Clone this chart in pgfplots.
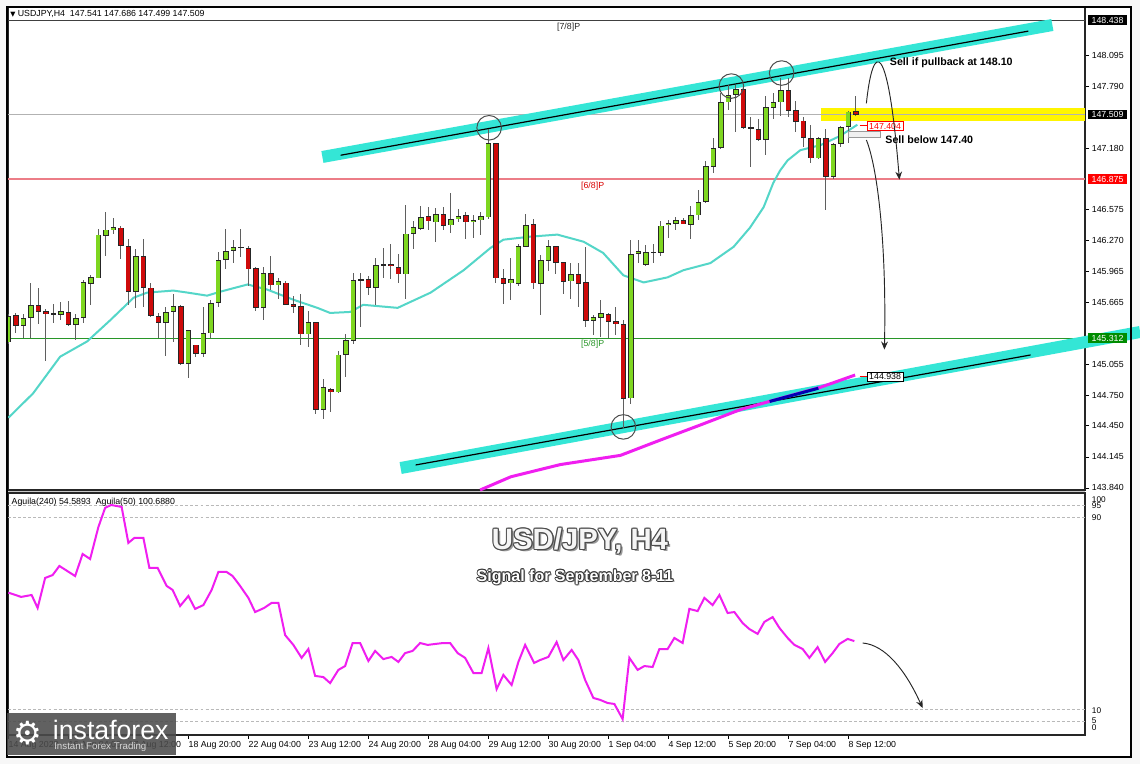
\documentclass[border=0pt]{standalone}
\usepackage{fontspec}
\setmainfont{Liberation Sans}
\newfontfamily\dejavu{DejaVu Sans}
\usepackage{pgfplots}
\pgfplotsset{compat=1.18}
\usepackage{pgfplotstable}
\usetikzlibrary{arrows.meta}

\definecolor{cup}{RGB}{126,214,32}
\definecolor{cdn}{RGB}{206,10,10}
\definecolor{wick}{RGB}{95,95,95}
\definecolor{band}{RGB}{52,230,214}
\definecolor{ma}{RGB}{84,214,200}
\definecolor{mag}{RGB}{240,30,240}
\definecolor{lvlred}{RGB}{236,125,135}
\definecolor{lvlgreen}{RGB}{40,150,40}
\definecolor{yel}{RGB}{255,245,0}

\newcommand{\fs}{\fontsize{6.6}{7.6}\selectfont}
\newcommand{\fb}{\fontsize{8}{9.5}\selectfont\bfseries}
\newcommand{\titlefont}{\fontsize{22}{26}\selectfont\bfseries}
\newcommand{\subfont}{\fontsize{12}{14}\selectfont\bfseries}

\pgfplotsset{candle/.style={draw=none, no markers, forget plot}}

\pgfplotstableread{
i O H L C
0 145.27 145.55 145.25 145.53
2 145.43 145.55 145.31 145.51
3 145.51 145.86 145.31 145.64
6 145.55 145.65 145.46 145.56
7 145.54 145.67 145.49 145.58
9 145.44 145.55 145.29 145.51
10 145.51 145.88 145.46 145.86
11 145.85 145.93 145.64 145.91
12 145.90 146.39 145.90 146.33
13 146.32 146.55 146.12 146.38
14 146.38 146.49 146.34 146.40
17 145.77 146.19 145.61 146.12
21 145.46 145.62 145.14 145.57
22 145.57 145.75 145.28 145.63
24 145.06 145.39 144.92 145.39
26 145.16 145.62 145.13 145.36
27 145.36 145.69 145.31 145.66
28 145.66 146.16 145.62 146.08
29 146.08 146.39 145.99 146.17
30 146.17 146.28 146.05 146.21
31 146.20 146.39 146.11 146.21
34 145.61 146.01 145.49 145.95
36 145.83 145.90 145.70 145.87
40 145.35 145.58 145.23 145.47
42 144.61 144.91 144.52 144.83
44 144.78 145.19 144.77 145.15
45 145.15 145.35 144.93 145.29
46 145.29 145.95 145.26 145.88
47 145.88 145.95 145.42 145.89
49 145.81 146.10 145.64 146.03
50 146.03 146.20 145.90 146.04
53 145.94 146.62 145.70 146.34
54 146.34 146.46 146.19 146.40
55 146.39 146.61 146.38 146.50
57 146.45 146.59 146.26 146.53
59 146.42 146.74 146.35 146.48
60 146.48 146.58 146.45 146.51
62 146.45 146.52 146.30 146.47
63 146.47 146.55 146.33 146.51
64 146.50 147.37 146.48 147.23
67 145.85 146.10 145.69 145.89
68 145.85 146.24 145.83 146.22
69 146.21 146.53 146.21 146.42
71 145.85 146.13 145.54 146.08
72 146.07 146.28 145.97 146.22
75 145.87 146.05 145.70 145.94
78 145.48 145.54 145.34 145.52
79 145.51 145.69 145.32 145.56
83 144.72 146.28 144.67 146.14
84 146.14 146.28 146.05 146.17
85 146.03 146.23 146.02 146.16
86 146.15 146.24 146.05 146.16
87 146.15 146.46 146.12 146.42
88 146.42 146.47 146.30 146.44
89 146.44 146.50 146.38 146.47
91 146.43 146.61 146.29 146.52
92 146.52 146.77 146.47 146.65
93 146.65 147.05 146.64 147.00
94 147.00 147.28 146.94 147.18
95 147.18 147.72 147.17 147.63
96 147.63 147.80 147.56 147.70
97 147.70 147.80 147.34 147.76
99 147.38 147.49 147.00 147.38
101 147.26 147.69 147.11 147.58
102 147.58 147.72 147.47 147.63
103 147.63 147.87 147.50 147.75
108 147.08 147.29 147.07 147.28
110 146.90 147.23 146.88 147.22
111 147.22 147.40 147.19 147.39
112 147.39 147.55 147.23 147.54
}\upc

\pgfplotstableread{
i O H L C
1 145.54 145.56 145.36 145.43
4 145.64 145.81 145.45 145.57
5 145.58 145.60 145.09 145.55
8 145.57 145.68 145.43 145.44
15 146.40 146.41 146.09 146.22
16 146.22 146.29 145.64 145.77
18 146.12 146.29 145.62 145.81
19 145.81 145.85 145.52 145.53
20 145.53 145.56 145.31 145.46
23 145.63 145.64 145.05 145.06
25 145.25 145.25 145.13 145.16
32 146.20 146.22 145.83 145.99
33 146.00 146.01 145.58 145.61
35 145.95 146.12 145.79 145.83
37 145.86 145.87 145.64 145.64
38 145.65 145.73 145.56 145.62
39 145.63 145.75 145.25 145.35
41 145.47 145.47 144.57 144.61
43 144.81 144.82 144.59 144.78
48 145.89 145.92 145.74 145.81
51 146.04 146.24 145.89 146.02
52 146.01 146.14 145.85 145.94
56 146.51 146.60 146.38 146.46
58 146.53 146.60 146.38 146.42
61 146.52 146.55 146.29 146.45
65 147.23 147.23 145.86 145.90
66 145.90 145.99 145.65 145.85
70 146.43 146.48 145.80 145.85
73 146.22 146.22 145.94 146.05
74 146.06 146.06 145.75 145.87
76 145.94 146.05 145.62 145.85
77 145.86 146.21 145.42 145.48
80 145.55 145.56 145.31 145.47
81 145.48 145.62 145.34 145.45
82 145.45 145.49 144.43 144.72
90 146.47 146.49 146.43 146.43
98 147.76 147.77 147.37 147.38
100 147.37 147.47 147.25 147.26
104 147.75 147.87 147.49 147.55
105 147.55 147.64 147.34 147.44
106 147.45 147.49 147.19 147.28
107 147.28 147.41 147.03 147.08
109 147.28 147.37 146.57 146.90
113 147.54 147.69 147.50 147.51
}\dnc

\begin{document}
\begin{tikzpicture}[x=1pt,y=1pt]
\useasboundingbox (0,0) rectangle (855,573);
\fill[gray!6] (0,0) rectangle (855,573);
\fill[white] (5.25,5.25) rectangle (848.25,567.75);
\fill[gray!45] (6,203.25) rectangle (813.75,205.5);

% ---------------- main price panel ----------------
\begin{axis}[
  at={(6pt,205.5pt)}, anchor=south west, scale only axis,
  width=807.75pt, height=362.25pt,
  xmin=-0.05, xmax=143.55, ymin=143.82, ymax=148.567,
  clip=false,
  axis line style={line width=0.8pt, black!85},
  xtick=\empty,
  ytick={143.84,144.145,144.45,144.75,145.055,145.665,145.965,146.27,146.575,147.18,147.79,148.095},
  yticklabels={143.840,144.145,144.450,144.750,145.055,145.665,145.965,146.270,146.575,147.180,147.790,148.095},
  ytick pos=right, yticklabel pos=right,
  tick align=outside, major tick length=3pt,
  every tick/.style={black, line width=0.6pt},
  yticklabel style={font=\fs, anchor=west, inner sep=0pt, xshift=2pt},
  /pgf/number format/assume math mode=true,
]
% yellow zone
\addplot[yel, line width=9.75pt, forget plot] coordinates {(108.3,147.515) (143.55,147.515)};
% horizontal levels
\addplot[draw=black!75, line width=0.75pt, forget plot] coordinates {(-0.05,148.438) (143.55,148.438)};
\addplot[draw=gray!60, line width=0.75pt, forget plot] coordinates {(-0.05,147.509) (143.55,147.509)};
\addplot[draw=lvlred, line width=1.3pt, forget plot] coordinates {(-0.05,146.875) (143.55,146.875)};
\addplot[draw=lvlgreen, line width=0.75pt, forget plot] coordinates {(-0.05,145.312) (143.55,145.312)};
% channel bands
\addplot[band, line width=9pt, forget plot] coordinates {(41.87,147.093) (139.2,148.39)};
\addplot[band, line width=9pt, forget plot] coordinates {(52.3,144.036) (150.9,145.373)};
\addplot[black, line width=0.9pt, forget plot] coordinates {(44.3,147.11) (136,148.33)};
\addplot[black, line width=0.9pt, forget plot] coordinates {(54.3,144.066) (136.3,145.147)};
% moving average (cyan)
\addplot[ma, line width=1.5pt, forget plot] coordinates {
(0,144.53) (3.3,144.77) (6.9,145.13) (10.5,145.28) (13.6,145.49) (16.7,145.71) (18.5,145.76)
(22,145.78) (23.9,145.76) (26.5,145.73) (28.3,145.77) (31.9,145.84) (34.5,145.79) (38,145.69)
(41.2,145.61) (42.9,145.56) (45.6,145.57) (47.3,145.64) (51.9,145.61) (56.3,145.76) (60.7,145.98)
(64.3,146.20) (66,146.28) (69.6,146.31) (73.2,146.33) (76.7,146.26) (79.3,146.15) (82,145.93)
(84.7,145.86) (87.9,145.91) (90,145.98) (93.6,146.05) (96.7,146.21) (98.9,146.40) (100.7,146.60)
(102,146.84) (102.9,146.96) (103.9,147.06) (105.6,147.16) (108.3,147.21) (110.9,147.30) (113.2,147.41)};
% slow moving average (magenta)
\addplot[mag, line width=2.25pt, forget plot] coordinates {
(62.9,143.82) (67,143.95) (73.6,144.07) (81.6,144.16) (86.9,144.31) (92.3,144.46) (97.6,144.61)
(102.9,144.72) (108.3,144.83) (112.9,144.95)};
\addplot[blue!70!black, line width=2.25pt, forget plot] coordinates {(101.5,144.69) (108,144.82)};
% wicks
\addplot[candle, error bars/.cd, y dir=both, y explicit, error mark=none,
  error bar style={draw=wick, line width=0.8pt}]
  table[x=i, y expr={(\thisrow{H}+\thisrow{L})/2}, y error expr={(\thisrow{H}-\thisrow{L})/2}] {\upc};
\addplot[candle, error bars/.cd, y dir=both, y explicit, error mark=none,
  error bar style={draw=wick, line width=0.8pt}]
  table[x=i, y expr={(\thisrow{H}+\thisrow{L})/2}, y error expr={(\thisrow{H}-\thisrow{L})/2}] {\dnc};
% bodies: outline
\addplot[candle, error bars/.cd, y dir=both, y explicit, error mark=none,
  error bar style={draw=black!85, line width=4.1pt}]
  table[x=i, y expr={(\thisrow{O}+\thisrow{C})/2}, y error expr={max(abs(\thisrow{C}-\thisrow{O})/2,0.006)}] {\upc};
\addplot[candle, error bars/.cd, y dir=both, y explicit, error mark=none,
  error bar style={draw=black!85, line width=4.1pt}]
  table[x=i, y expr={(\thisrow{O}+\thisrow{C})/2}, y error expr={max(abs(\thisrow{C}-\thisrow{O})/2,0.006)}] {\dnc};
% bodies: fill
\addplot[candle, error bars/.cd, y dir=both, y explicit, error mark=none,
  error bar style={draw=cup, line width=2.9pt}]
  table[x=i, y expr={(\thisrow{O}+\thisrow{C})/2}, y error expr={max(abs(\thisrow{C}-\thisrow{O})/2-0.0075,0)}] {\upc};
\addplot[candle, error bars/.cd, y dir=both, y explicit, error mark=none,
  error bar style={draw=cdn, line width=2.9pt}]
  table[x=i, y expr={(\thisrow{O}+\thisrow{C})/2}, y error expr={max(abs(\thisrow{C}-\thisrow{O})/2-0.0075,0)}] {\dnc};

% circles
\draw[gray!60!black, line width=0.75pt] (axis cs:64.1,147.38) circle[radius=9.2pt];
\draw[gray!60!black, line width=0.75pt] (axis cs:96.4,147.79) circle[radius=9.2pt];
\draw[gray!60!black, line width=0.75pt] (axis cs:103.1,147.918) circle[radius=9.2pt];
\draw[gray!60!black, line width=0.75pt] (axis cs:82,144.44) circle[radius=9.2pt];

% level labels
\node[font=\fs, text=black!85] at (axis cs:74.7,148.37) {[7/8]P};
\node[font=\fs, text=red!85!black] at (axis cs:77.9,146.808) {[6/8]P};
\node[font=\fs, text=lvlgreen] at (axis cs:77.9,145.255) {[5/8]P};

% marker boxes
\addplot[red, line width=0.75pt, forget plot] coordinates {(113.5,147.40) (114.6,147.40)};
\node[draw=red, fill=white, text=red, font=\fs, inner xsep=1.5pt, inner ysep=1pt, line width=0.6pt] at (axis cs:116.9,147.397) {147.404};
\addplot[red, line width=0.75pt, forget plot] coordinates {(113.5,144.935) (114.6,144.935)};
\node[draw=black, fill=white, text=black, font=\fs, inner xsep=1.5pt, inner ysep=1pt, line width=0.6pt] at (axis cs:116.9,144.931) {144.938};
\draw[gray!80, fill=gray!12, line width=0.6pt] (axis cs:112,147.348) rectangle (axis cs:116.3,147.289);

% annotations
\node[font=\fb, anchor=west, inner sep=0pt] at (axis cs:117.5,148.016) {Sell if pullback at 148.10};
\node[font=\fb, anchor=west, inner sep=0pt] at (axis cs:116.9,147.26) {Sell below 147.40};
\draw[black!85, line width=0.7pt, -{Stealth[length=6pt,width=5pt]}]
  (axis cs:114.4,147.62) .. controls (axis cs:115.3,148.25) and (axis cs:117.3,148.25) .. (axis cs:118.8,146.87);
\draw[black!85, line width=0.7pt, -{Stealth[length=6pt,width=5pt]}]
  (axis cs:114.4,147.26) .. controls (axis cs:116,146.965) and (axis cs:117.1,146.18) .. (axis cs:116.8,145.20);

% right price boxes
\node[fill=black, text=white, font=\fs, inner xsep=2.6pt, inner ysep=1.3pt, anchor=west, xshift=2.2pt] at (axis cs:143.55,148.438) {148.438};
\node[fill=black, text=white, font=\fs, inner xsep=2.6pt, inner ysep=1.3pt, anchor=west, xshift=2.2pt] at (axis cs:143.55,147.509) {147.509};
\node[fill=red, text=white, font=\fs, inner xsep=2.6pt, inner ysep=1.3pt, anchor=west, xshift=2.2pt] at (axis cs:143.55,146.875) {146.875};
\node[fill=green!55!black, text=white, font=\fs, inner xsep=2.6pt, inner ysep=1.3pt, anchor=west, xshift=2.2pt] at (axis cs:143.55,145.312) {145.312};
\end{axis}

% ---------------- indicator panel ----------------
\begin{axis}[
  at={(6pt,21.75pt)}, anchor=south west, scale only axis,
  width=807.75pt, height=181.5pt,
  xmin=-0.05, xmax=143.55, ymin=-0.83, ymax=100,
  clip=false,
  axis line style={line width=0.8pt, black!85},
  xtick={0,8,...,112},
  xticklabels={14 Aug 2023,16 Aug 04:00,17 Aug 12:00,18 Aug 20:00,22 Aug 04:00,23 Aug 12:00,24 Aug 20:00,28 Aug 04:00,29 Aug 12:00,30 Aug 20:00,1 Sep 04:00,4 Sep 12:00,5 Sep 20:00,7 Sep 04:00,8 Sep 12:00},
  xtick pos=bottom,
  ytick={2.2,5.1,9.5,89.7,94.7,97.2},
  yticklabels={0,5,10,90,95,100},
  ytick pos=right, yticklabel pos=right,
  ytick style={draw=none},
  tick align=outside, major tick length=3pt,
  xtick style={black, line width=0.6pt},
  xticklabel style={font=\fs, anchor=north west, inner sep=0pt, yshift=-1.5pt},
  yticklabel style={font=\fontsize{6.2}{7}\selectfont, anchor=west, inner sep=0pt, xshift=2pt},
]
\addplot[gray!55, dash pattern=on 2.2pt off 1.6pt, line width=0.6pt, forget plot] coordinates {(-0.05,95) (143.55,95)};
\addplot[gray!55, dash pattern=on 2.2pt off 1.6pt, line width=0.6pt, forget plot] coordinates {(-0.05,90) (143.55,90)};
\addplot[gray!55, dash pattern=on 2.2pt off 1.6pt, line width=0.6pt, forget plot] coordinates {(-0.05,10) (143.55,10)};
\addplot[gray!55, dash pattern=on 2.2pt off 1.6pt, line width=0.6pt, forget plot] coordinates {(-0.05,5) (143.55,5)};
\addplot[mag, line width=1.5pt, forget plot] coordinates {
(0,58.5) (1.7,56.7) (3.1,57.5) (3.9,52.1) (4.9,64.6) (5.9,65.8) (6.8,69.6) (8.9,65.4) (9.9,74.6)
(10.9,72.5) (12,85.8) (12.9,93.8) (13.7,95) (15.1,94.2) (16,79.2) (16.8,81.3) (18,81.3) (18.8,68.8)
(19.9,68.8) (21.1,61.3) (21.9,59.6) (22.9,52.9) (24,57.1) (24.9,51.7) (26,53.3) (27.1,59.6) (28,67.1)
(29.1,67.1) (29.9,65.4) (30.8,61.7) (32,56.3) (32.9,50.4) (34.1,52.1) (35.1,54.2) (36,54.2) (36.9,40.8)
(38,36.7) (39.1,31.3) (40,35) (40.9,23.8) (42,23.3) (42.9,20.8) (44,26.3) (44.9,27.9) (45.9,37.5)
(46.9,37.5) (48,30) (48.9,34.2) (50,30.8) (51.1,31.7) (52,29.6) (52.9,33.3) (53.9,34.2) (54.9,37.5)
(55.9,36.7) (56.9,37.1) (58,37.5) (58.9,37.5) (59.9,33.3) (60.9,31.3) (62,25) (63.1,25) (64,35.4)
(65.1,18.3) (66,24.2) (67.1,20) (68,29.6) (68.9,36.7) (70.1,29.2) (70.9,30.4) (72,31.7) (73.1,37.9)
(74,30.4) (75.1,34.6) (76,30.4) (76.9,22.1) (78,14.6) (78.9,13.8) (79.9,12.5) (80.8,12.1) (81.9,5.8)
(82.8,31.3) (83.9,26.3) (84.8,27.9) (85.9,27.5) (86.8,35) (87.9,35) (88.8,39.6) (89.9,37.5) (90.8,51.7)
(91.9,50.8) (92.8,56.3) (93.9,53.3) (94.8,57.5) (95.9,50) (96.8,50.4) (97.9,45.8) (98.8,43.3) (99.9,41.3)
(100.8,46.3) (101.9,48.3) (102.8,43.8) (103.9,39.6) (104.8,36.7) (105.9,35) (106.8,31.3) (107.9,35.8)
(108.9,29.6) (109.9,33.3) (110.8,37.1) (111.9,39.2) (112.8,38.3)};
\draw[black!85, line width=0.7pt, -{Stealth[length=6pt,width=5pt]}]
  (axis cs:113.9,37.5) .. controls (axis cs:116.9,36.7) and (axis cs:119.6,26.3) .. (axis cs:121.9,10.4);
\node[font=\fs, anchor=west, inner sep=0pt] at (axis cs:0.4,96.2) {Aguila(240) 54.5893\ \ Aguila(50) 100.6880};
\end{axis}

% header
\node[font=\fs, anchor=west, inner sep=0pt] at (7.5,562.5) {{\dejavu\fontsize{5}{6}\selectfont ▼} USDJPY,H4\ \ 147.541 147.686 147.499 147.509};

% title with outline
\node[text=black!40, font=\titlefont] at (436.8,165.5) {USD/JPY, H4};
\foreach \dx/\dy in {0.9/0,-0.9/0,0/0.9,0/-0.9,0.65/0.65,-0.65/0.65,0.65/-0.65,-0.65/-0.65}
  \node[text=black!70, font=\titlefont] at (435+\dx,167.25+\dy) {USD/JPY, H4};
\node[text=gray!8, font=\titlefont] at (435,167.25) {USD/JPY, H4};

\node[text=black!40, font=\subfont] at (432.5,139) {Signal for September 8-11};
\foreach \dx/\dy in {0.7/0,-0.7/0,0/0.7,0/-0.7,0.5/0.5,-0.5/0.5,0.5/-0.5,-0.5/-0.5}
  \node[text=black!80, font=\subfont] at (431.25+\dx,140.25+\dy) {Signal for September 8-11};
\node[text=white, font=\subfont] at (431.25,140.25) {Signal for September 8-11};

% outer frame
\draw[black, line width=1.5pt] (5.25,5.25) rectangle (848.25,567.75);

% logo
\fill[gray!60!black, opacity=0.88] (5.25,6.75) rectangle (132,38.25);
\node[text=white, font=\dejavu\fontsize{24}{26}\selectfont, inner sep=0pt] at (21,23) {⚙};
\node[text=white, font=\fontsize{20}{22}\selectfont, anchor=base west, inner sep=0pt] at (39.5,18) {instaforex};
\node[text=gray!30, font=\fontsize{7.3}{8}\selectfont, anchor=base west, inner sep=0pt] at (40.5,10.5) {Instant Forex Trading};
\end{tikzpicture}
\end{document}
